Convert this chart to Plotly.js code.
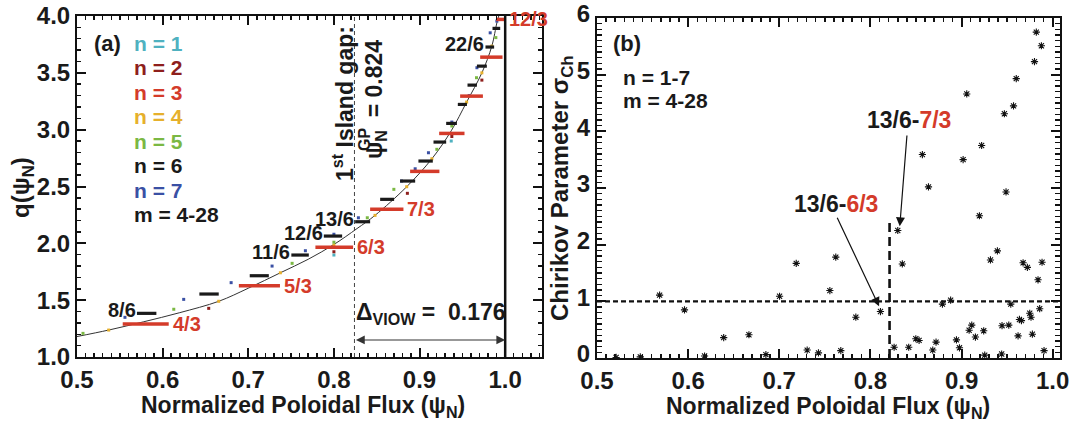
<!DOCTYPE html>
<html><head><meta charset="utf-8">
<script src="https://cdn.plot.ly/plotly-3.0.1.min.js"></script>
<style>body{margin:0;background:#fff}#plot{width:1076px;height:426px}</style>
</head><body><div id="plot"></div>
<script>
// ---------- Panel (a) data ----------
const curvePsi = [0.5, 0.537, 0.578, 0.62, 0.6655, 0.70, 0.7375, 0.77, 0.80, 0.827, 0.848, 0.885, 0.9144, 0.937, 0.955, 0.9728, 0.9844, 0.9903, 0.9925];
const curveQ   = [1.18, 1.237, 1.31, 1.39, 1.49, 1.605, 1.741, 1.86, 1.99, 2.13, 2.246, 2.498, 2.744, 2.99, 3.243, 3.50, 3.735, 3.94, 4.0];

const n3Labels = ['4/3','5/3','6/3','7/3','8/3','9/3','10/3','11/3','12/3'];
const n3Start  = [0.5534, 0.689, 0.7784, 0.8423, 0.889, 0.9229, 0.9474, 0.9708, 0.9895];
const n3End    = [0.6071, 0.737, 0.8224, 0.8812, 0.9232, 0.9525, 0.974, 0.9969, 1.0];
const n3Q      = [1.29, 1.627, 1.965, 2.299, 2.633, 2.967, 3.295, 3.638, 3.97];
const n3Shown  = ['4/3','5/3','6/3','7/3','12/3'];

const n6Labels = ['8/6','9/6','10/6','11/6','12/6','13/6','14/6','15/6','16/6','17/6','18/6','19/6','20/6','21/6','22/6','23/6'];
const n6Start  = [0.570, 0.6429, 0.7017, 0.7503, 0.7882, 0.8248, 0.854, 0.8773, 0.8987, 0.9163, 0.9311, 0.9447, 0.956, 0.967, 0.977, 0.9852];
const n6End    = [0.5927, 0.6655, 0.724, 0.7707, 0.8096, 0.8423, 0.8703, 0.8949, 0.9155, 0.9311, 0.9436, 0.9553, 0.967, 0.9786, 0.9871, 0.9942];
const n6Q      = [1.384, 1.554, 1.715, 1.897, 2.064, 2.19, 2.387, 2.548, 2.724, 2.891, 3.055, 3.222, 3.392, 3.559, 3.727, 3.891];
const n6Shown  = ['8/6','11/6','12/6','13/6','22/6'];

const n1Psi = [0.80, 0.937];            const n1Q = [1.897, 2.90];
const n2Psi = [0.6538, 0.80, 0.8858, 0.9377, 0.9728]; const n2Q = [1.428, 1.926, 2.44, 2.94, 3.436];
const n4Psi = [0.537, 0.6655, 0.7375, 0.80, 0.848, 0.885, 0.9144, 0.955, 0.9728, 0.9844];
const n4Q   = [1.237, 1.49, 1.741, 1.985, 2.246, 2.498, 2.744, 3.243, 3.50, 3.735];
const n5Psi = [0.507, 0.613, 0.7512, 0.80, 0.839, 0.870, 0.9202, 0.9377, 0.9533, 0.9665, 0.9891];
const n5Q   = [1.208, 1.42, 1.824, 2.01, 2.225, 2.475, 2.827, 3.032, 3.222, 3.457, 3.81];
const n7Psi = [0.556, 0.6246, 0.680, 0.7278, 0.7667, 0.80, 0.8286, 0.879, 0.8949, 0.9104, 0.9377, 0.958, 0.967, 0.9825, 0.9903];
const n7Q   = [1.349, 1.507, 1.654, 1.80, 1.935, 2.08, 2.225, 2.548, 2.656, 2.797, 3.067, 3.30, 3.545, 3.852, 3.955];

const legendTexts = ['n = 1','n = 2','n = 3','n = 4','n = 5','n = 6','n = 7','m = 4-28'];
const gapPsi = 0.824;
const viowY = 1.15;

// ---------- Panel (b) data ----------
const chirPsi = [0.521,0.5475,0.5687,0.596,0.618,0.639,0.6667,0.6853,0.7003,0.7186,0.7306,0.743,0.7555,0.762,0.7675,0.784,0.811,0.826,0.830,0.835,0.842,0.8498,0.8534,0.857,0.8637,0.8684,0.872,0.879,0.888,0.8944,0.8977,0.9017,0.9057,0.9083,0.9112,0.9152,0.9196,0.922,0.9243,0.9254,0.9317,0.9393,0.944,0.9444,0.947,0.9488,0.9518,0.954,0.957,0.960,0.962,0.9635,0.9657,0.9675,0.9722,0.9748,0.9762,0.9777,0.980,0.982,0.9839,0.9857,0.9876,0.9883,0.9905];
const chirSig = [0.01,0.02,1.11,0.85,0.035,0.36,0.41,0.06,1.09,1.67,0.14,0.09,1.19,1.78,0.13,0.72,0.82,0.19,2.25,1.66,0.19,0.34,0.31,3.59,3.02,0.14,0.28,0.95,1.02,0.32,0.18,3.50,4.66,0.49,0.58,0.37,2.51,3.75,0.48,0.05,1.73,1.89,0.07,0.57,4.31,2.93,0.58,0.95,4.45,4.93,0.39,0.68,0.66,1.68,1.60,0.79,0.72,0.42,5.23,5.75,1.38,0.87,5.51,1.69,0.13];
const gapPsiB = 0.821;
const gapTopB = 2.4;
const arrow63 = {tail:[0.7628, 2.5], head:[0.8095, 0.912]};
const arrow73 = {tail:[0.8402, 3.953], head:[0.8322, 2.324]};

const xTitleText = 'Normalized Poloidal Flux (ψ<sub>N</sub>)';
const yTitleA = 'q(ψ<sub>N</sub>)';
const yTitleB = 'Chirikov Parameter σ<sub>Ch</sub>';

// ---------- styling ----------
const FONT = '"Liberation Sans Narrow","Arial Narrow","Liberation Sans",Arial,sans-serif';
const RED = '#d43b2a';
const nColors = ['#4fb1c0','#8e1f1c','#d43b2a','#e6b02c','#7bb843','#1a1a1a','#3a50a4','#1a1a1a'];
const W = 1076, H = 426;
const px = v => v / W, py = v => 1 - v / H;

function barTrace(s, e, q, color, width, ax) {
  const x = [], y = [];
  for (let i = 0; i < s.length; i++) { x.push(s[i], e[i], null); y.push(q[i], q[i], null); }
  return {x, y, mode:'lines', line:{color, width}, xaxis:'x'+ax, yaxis:'y'+ax, hoverinfo:'skip', showlegend:false};
}
function dots(xs, ys, color) {
  return {x:xs, y:ys, mode:'markers', marker:{symbol:'square', size:3, color}, xaxis:'x', yaxis:'y', showlegend:false};
}

const traces = [
  {x:curvePsi, y:curveQ, mode:'lines', line:{color:'#333', width:1, shape:'spline'}, xaxis:'x', yaxis:'y', showlegend:false},
  dots(n1Psi, n1Q, nColors[0]), dots(n2Psi, n2Q, nColors[1]), dots(n4Psi, n4Q, nColors[3]),
  dots(n5Psi, n5Q, nColors[4]), dots(n7Psi, n7Q, nColors[6]),
  barTrace(n6Start, n6End, n6Q, '#1a1a1a', 3.2, ''),
  barTrace(n3Start, n3End, n3Q, RED, 3.5, ''),
  {x:chirPsi, y:chirSig, mode:'markers', marker:{symbol:'asterisk-open', size:6, color:'#111', line:{color:'#111', width:1.1}}, xaxis:'x2', yaxis:'y2', showlegend:false}
];

const annotations = [];
const tf = (size, color) => ({family:FONT, size, color: color || '#1a1a1a', weight:'bold'});
function txt(x, y, text, size, color, opts) {
  annotations.push(Object.assign({xref:'paper', yref:'paper', x:px(x), y:py(y), text, showarrow:false,
    font:tf(size, color), xanchor:'left', yanchor:'middle', borderpad:0}, opts || {}));
}
// axis titles
txt(303, 406, xTitleText, 23, null, {xanchor:'center'});
txt(828, 407, xTitleText, 23, null, {xanchor:'center'});
txt(23, 188, yTitleA, 24, null, {xanchor:'center', textangle:-90});
txt(562, 188, yTitleB, 24, null, {xanchor:'center', textangle:-90});
// panel a texts
txt(93, 43, '(a)', 22);
legendTexts.forEach((t, i) => txt(133, 43 + 24.5*i, t, 21, nColors[i]));
n3Labels.forEach((l, i) => { if (n3Shown.includes(l)) annotations.push({xref:'x', yref:'y', x:n3End[i], y:n3Q[i], text:l, showarrow:false,
  xanchor:'left', yanchor:'middle', xshift:3, borderpad:0, font:tf(20, RED)}); });
n6Labels.forEach((l, i) => { if (n6Shown.includes(l)) annotations.push({xref:'x', yref:'y', x:n6Start[i], y:n6Q[i], text:l, showarrow:false,
  xanchor:'right', yanchor:'middle', yshift:3, borderpad:0, font:tf(20)}); });
txt(343, 104, '1<sup>st</sup> Island gap:', 23, null, {textangle:-90, xanchor:'center'});
txt(375, 100, 'ψ<sub>N</sub>  = 0.824', 23, null, {textangle:-90, xanchor:'center'});
txt(364, 140, 'GP', 16, null, {textangle:-90, xanchor:'center'});
txt(355, 313, 'Δ<sub>VIOW</sub> =\u00a0\u00a00.176', 23);
annotations.push({xref:'x', yref:'y', axref:'x', ayref:'y', x:1.0, y:viowY, ax:gapPsi, ay:viowY, showarrow:true,
  arrowhead:2, startarrowhead:2, arrowside:'end+start', arrowsize:1.6, startarrowsize:1.6, arrowwidth:1.1, arrowcolor:'#333', text:''});
// panel b texts
txt(612, 43, '(b)', 22);
txt(622, 78, 'n = 1-7', 21);
txt(622, 101, 'm = 4-28', 21);
txt(909, 120, '13/6-<span style="color:'+RED+'">7/3</span>', 23, null, {xanchor:'center'});
txt(836, 204, '13/6-<span style="color:'+RED+'">6/3</span>', 23, null, {xanchor:'center'});
[arrow73, arrow63].forEach(a => annotations.push({xref:'x2', yref:'y2', axref:'x2', ayref:'y2', x:a.head[0], y:a.head[1],
  ax:a.tail[0], ay:a.tail[1], showarrow:true, arrowhead:2, arrowsize:1.5, arrowwidth:1.2, arrowcolor:'#111', text:'', standoff:0}));

const shapes = [
  {type:'line', xref:'x', yref:'paper', x0:gapPsi, x1:gapPsi, y0:py(357), y1:py(16), line:{color:'#444', width:1, dash:'4px,3px'}},
  {type:'line', xref:'x', yref:'paper', x0:1.0, x1:1.0, y0:py(357), y1:py(16), line:{color:'#111', width:2.5}},
  {type:'line', xref:'paper', yref:'y2', x0:px(597), x1:px(1060), y0:1, y1:1, line:{color:'#111', width:2.2, dash:'5px,3px'}},
  {type:'line', xref:'x2', yref:'y2', x0:gapPsiB, x1:gapPsiB, y0:0, y1:gapTopB, line:{color:'#111', width:2.6, dash:'9px,5px'}}
];

function axis(extra) {
  return Object.assign({showgrid:false, zeroline:false, showline:true, linecolor:'#111', linewidth:2, mirror:'allticks',
    ticks:'inside', ticklen:9, tickwidth:2, tickcolor:'#111', tickfont:tf(24), automargin:false}, extra);
}

const layout = {
  width:W, height:H, margin:{l:0, r:0, t:0, b:0}, paper_bgcolor:'#fff', plot_bgcolor:'#fff', showlegend:false,
  xaxis: axis({domain:[px(77), px(542)], range:[0.5, 1.043], tick0:0.5, dtick:0.1, tickformat:'.1f', anchor:'y',
    minor:{dtick:0.01, ticks:'inside', ticklen:4, tickwidth:1.5, tickcolor:'#111'}}),
  yaxis: axis({domain:[1-357/H, 1-16/H], range:[1, 4], dtick:0.5, tickformat:'.1f', anchor:'x',
    minor:{dtick:0.1, ticks:'inside', ticklen:4, tickwidth:1.5, tickcolor:'#111'}}),
  xaxis2: axis({domain:[px(597), px(1060)], range:[0.5, 1.008], tick0:0.5, dtick:0.1, tickformat:'.1f', anchor:'y2',
    minor:{dtick:0.01, ticks:'inside', ticklen:4, tickwidth:1.5, tickcolor:'#111'}}),
  yaxis2: axis({domain:[1-358/H, 1-18/H], range:[0, 6], dtick:1, anchor:'x2', ticklabelshift:-4,
    minor:{dtick:0.1, ticks:'inside', ticklen:5, tickwidth:1.5, tickcolor:'#111'}}),
  annotations, shapes
};
Plotly.newPlot('plot', traces, layout, {staticPlot:true, displayModeBar:false});
</script></body></html>
